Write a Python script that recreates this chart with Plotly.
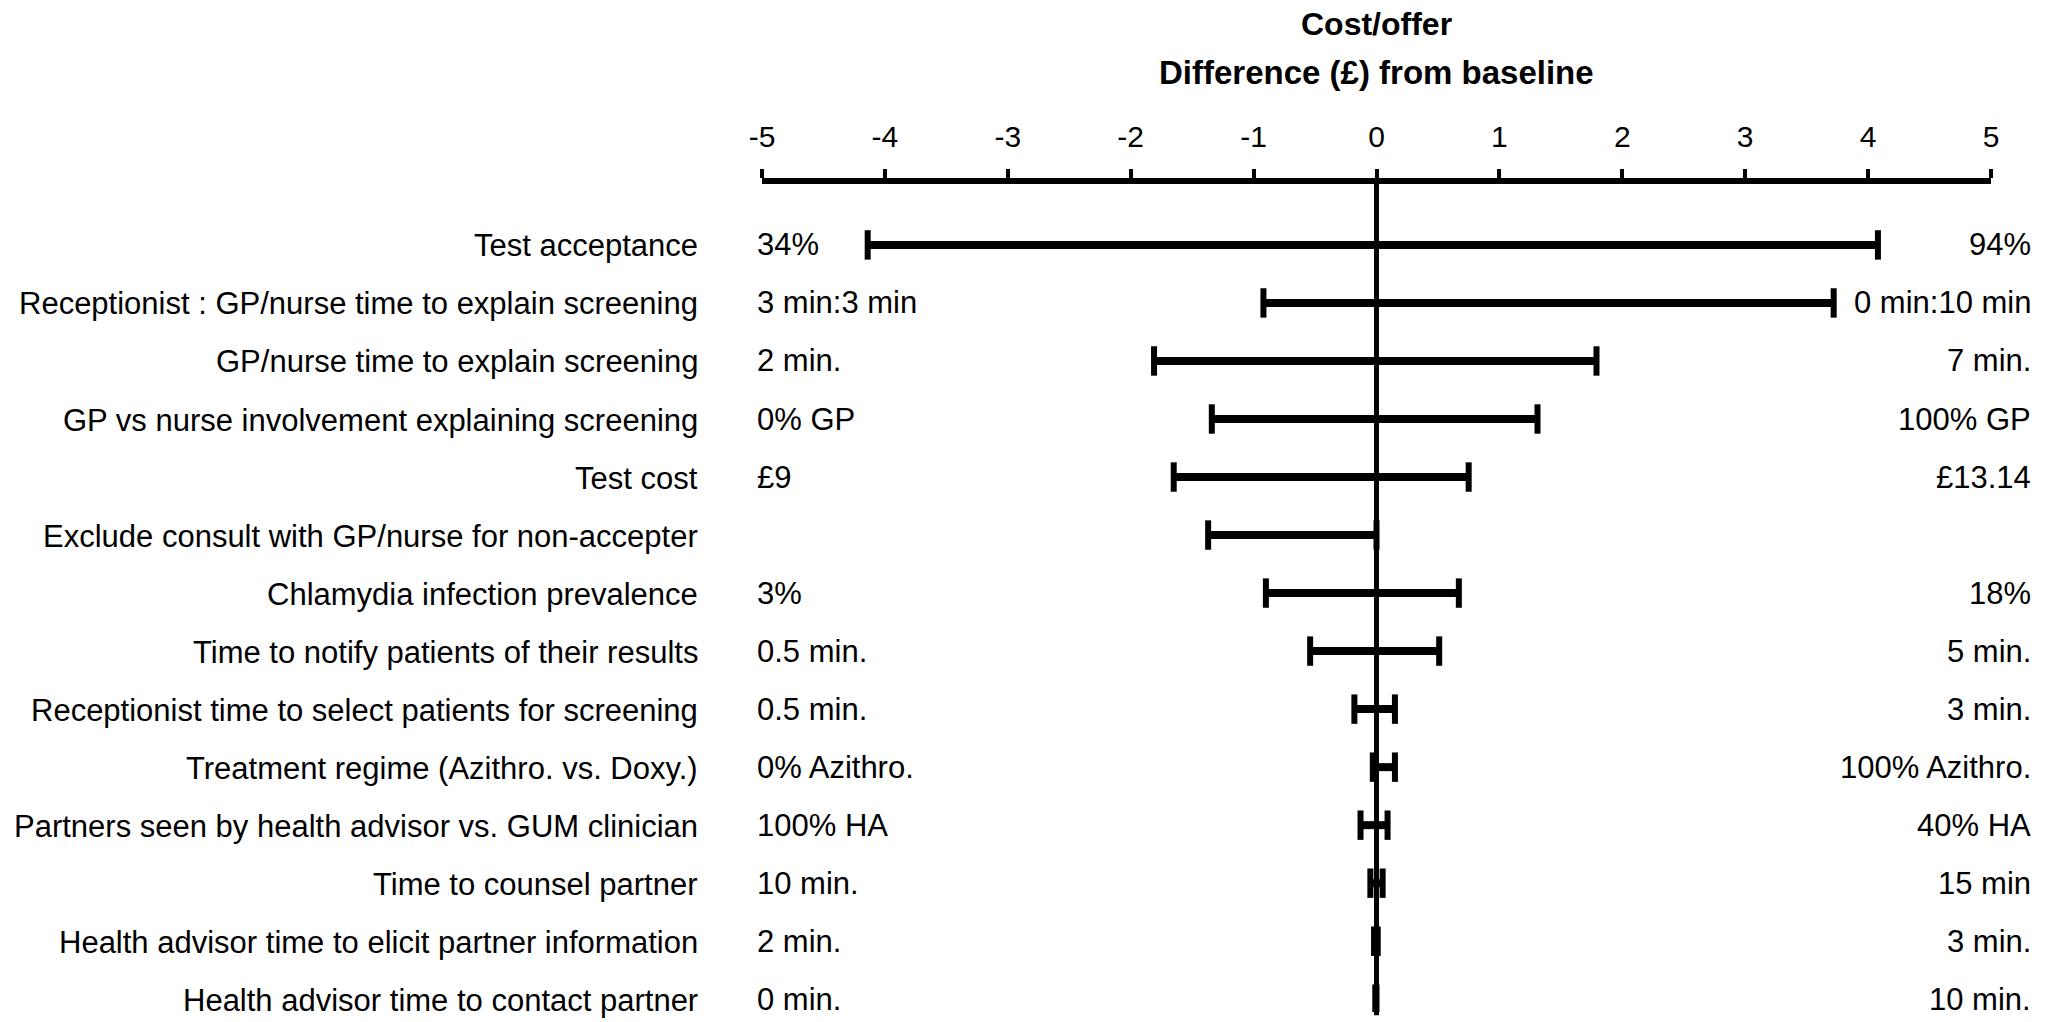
import plotly.graph_objects as go

# One-way sensitivity analysis: change in cost per offer (GBP) from baseline
parameters = [
    "Test acceptance",
    "Receptionist : GP/nurse time to explain screening",
    "GP/nurse time to explain screening",
    "GP vs nurse involvement explaining screening",
    "Test cost",
    "Exclude consult with GP/nurse for non-accepter",
    "Chlamydia infection prevalence",
    "Time to notify patients of their results",
    "Receptionist time to select patients for screening",
    "Treatment regime (Azithro. vs. Doxy.)",
    "Partners seen by health advisor vs. GUM clinician",
    "Time to counsel partner",
    "Health advisor time to elicit partner information",
    "Health advisor time to contact partner",
]
low_setting = [
    "34%", "3 min:3 min", "2 min.", "0% GP", "£9", "", "3%", "0.5 min.",
    "0.5 min.", "0% Azithro.", "100% HA", "10 min.", "2 min.", "0 min.",
]
high_setting = [
    "94%", "0 min:10 min", "7 min.", "100% GP", "£13.14", "", "18%", "5 min.",
    "3 min.", "100% Azithro.", "40% HA", "15 min", "3 min.", "10 min.",
]
diff_low = [-4.14, -0.92, -1.81, -1.34, -1.65, -1.37, -0.90, -0.54,
            -0.18, -0.03, -0.13, -0.05, -0.02, -0.01]
diff_high = [4.08, 3.72, 1.79, 1.31, 0.75, 0.0, 0.67, 0.51,
             0.15, 0.15, 0.09, 0.05, 0.01, 0.0]
tick_values = [-5, -4, -3, -2, -1, 0, 1, 2, 3, 4, 5]

FONT = "Liberation Sans, Arial, sans-serif"
INK = "black"
n = len(parameters)
rows = list(range(n))

fig = go.Figure()

# horizontal range bars
seg_x, seg_y = [], []
for i in rows:
    seg_x += [diff_low[i], diff_high[i], None]
    seg_y += [i, i, None]
fig.add_trace(go.Scatter(
    x=seg_x, y=seg_y, mode="lines",
    line=dict(color=INK, width=8), hoverinfo="skip", showlegend=False,
))

# end caps
cap_x = diff_low + diff_high
cap_y = rows + rows
fig.add_trace(go.Scatter(
    x=cap_x, y=cap_y, mode="markers",
    marker=dict(symbol="line-ns", size=21, color=INK,
                line=dict(color=INK, width=6)),
    hoverinfo="skip", showlegend=False,
))

# vertical baseline at zero
fig.add_shape(type="line", xref="x", yref="paper", x0=0, x1=0, y0=-0.004, y1=1,
              line=dict(color=INK, width=5), layer="above")

annotations = []
for i in rows:
    annotations.append(dict(
        x=-0.0505, xref="paper", y=i, yref="y", text=parameters[i],
        xanchor="right", yanchor="middle", showarrow=False, yshift=-1,
        font=dict(family=FONT, size=31, color=INK)))
    if low_setting[i]:
        annotations.append(dict(
            x=-0.006, xref="paper", y=i, yref="y", text=low_setting[i],
            xanchor="left", yanchor="middle", showarrow=False,
            font=dict(family=FONT, size=31, color=INK)))
    if high_setting[i]:
        annotations.append(dict(
            x=1.0345, xref="paper", y=i, yref="y", text=high_setting[i],
            xanchor="right", yanchor="middle", showarrow=False,
            font=dict(family=FONT, size=31, color=INK)))

annotations.append(dict(
    x=0, xref="x", y=1.193, yref="paper", text="<b>Cost/offer</b>",
    xanchor="center", yanchor="middle", showarrow=False,
    font=dict(family=FONT, size=32, color=INK)))
annotations.append(dict(
    x=0, xref="x", y=1.135, yref="paper",
    text="<b>Difference (£) from baseline</b>",
    xanchor="center", yanchor="middle", showarrow=False,
    font=dict(family=FONT, size=33, color=INK)))

fig.update_layout(
    width=2059, height=1022,
    margin=dict(l=762, r=68, t=184, b=10),
    paper_bgcolor="white", plot_bgcolor="white",
    annotations=annotations,
    xaxis=dict(
        range=[-5, 5], side="top", tickmode="array", tickvals=tick_values,
        ticktext=[str(v) for v in tick_values],
        ticks="outside", ticklen=9, tickwidth=4, tickcolor=INK,
        ticklabelstandoff=10,
        showline=True, linewidth=6, linecolor=INK, mirror=False,
        showgrid=False, zeroline=False,
        tickfont=dict(family=FONT, size=30, color=INK),
    ),
    yaxis=dict(
        range=[13.22, -1.05], showticklabels=False, showgrid=False,
        zeroline=False, showline=False, ticks="",
    ),
)

fig.write_html("out.html")
